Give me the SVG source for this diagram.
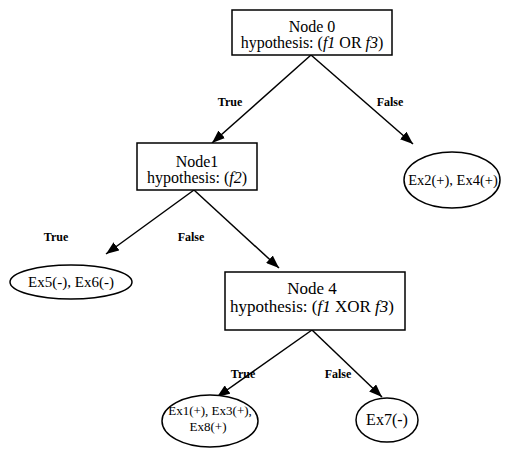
<svg xmlns="http://www.w3.org/2000/svg" width="516" height="450" viewBox="0 0 516 450">
<defs>
<marker id="ah" viewBox="0 0 13 10" refX="13" refY="5" markerWidth="13" markerHeight="10" markerUnits="userSpaceOnUse" orient="auto">
<path d="M0,0 L13,5 L0,10 z" fill="#000"/>
</marker>
<style>
.box{fill:#fff;stroke:#000;stroke-width:1.5}
.t{font-family:"Liberation Serif","Times New Roman",serif;font-size:16px;fill:#000;text-anchor:middle}
.l{font-family:"Liberation Serif","Times New Roman",serif;font-size:12px;font-weight:bold;fill:#000;text-anchor:middle}
.e{fill:#fff;stroke:#000;stroke-width:1.5}
.c{stroke:#000;stroke-width:1.5;fill:none;marker-end:url(#ah)}
</style>
</defs>
<rect width="516" height="450" fill="#fff"/>
<g id="connectors">
<line class="c" x1="311" y1="55" x2="212" y2="143"/>
<line class="c" x1="311" y1="55" x2="413" y2="144"/>
<line class="c" x1="194" y1="190" x2="106" y2="254"/>
<line class="c" x1="194" y1="190" x2="279" y2="268"/>
<line class="c" x1="312" y1="330" x2="217" y2="397"/>
<line class="c" x1="312" y1="330" x2="382" y2="397"/>
<text class="l" x="230" y="106">True</text>
<text class="l" x="390" y="106">False</text>
<text class="l" x="56" y="241">True</text>
<text class="l" x="191" y="241">False</text>
<text class="l" x="243" y="378">True</text>
<text class="l" x="338" y="378">False</text>
</g>
<g id="node0">
<rect class="box" x="232" y="10" width="160" height="45"/>
<text class="t" x="312" y="32">Node 0</text>
<text class="t" x="312" y="48">hypothesis: (<tspan font-style="italic">f1</tspan> OR <tspan font-style="italic">f3</tspan>)</text>
</g>
<g id="node1">
<rect class="box" x="137" y="143" width="120" height="47"/>
<text class="t" x="197" y="167">Node1</text>
<text class="t" x="197" y="183">hypothesis: (<tspan font-style="italic">f2</tspan>)</text>
</g>
<g id="leaf24">
<ellipse class="e" cx="452" cy="180" rx="48" ry="28"/>
<text class="t" x="453" y="185" style="font-size:14.5px">Ex2(+), Ex4(+)</text>
</g>
<g id="leaf56">
<ellipse class="e" cx="71" cy="282" rx="61" ry="17"/>
<text class="t" x="71" y="287" style="font-size:15px">Ex5(-), Ex6(-)</text>
</g>
<g id="node4">
<rect class="box" x="225" y="272" width="180" height="58"/>
<text class="t" x="312" y="294" style="font-size:17px">Node 4</text>
<text class="t" x="312" y="312" style="font-size:17px">hypothesis: (<tspan font-style="italic">f1</tspan> XOR <tspan font-style="italic">f3</tspan>)</text>
</g>
<g id="leaf138">
<ellipse class="e" cx="210" cy="421" rx="48" ry="26"/>
<text class="t" x="210" y="415" style="font-size:13px">Ex1(+), Ex3(+),</text>
<text class="t" x="208" y="431" style="font-size:13px">Ex8(+)</text>
</g>
<g id="leaf7">
<ellipse class="e" cx="387" cy="420" rx="31" ry="22"/>
<text class="t" x="387" y="425" style="font-size:16px">Ex7(-)</text>
</g>
</svg>
